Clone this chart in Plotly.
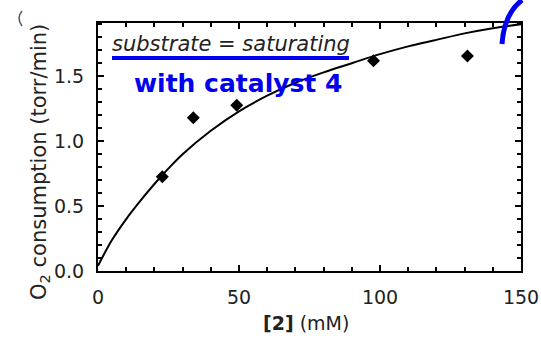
import plotly.graph_objects as go

# measured data points
conc = [22.8, 33.8, 49.2, 97.7, 131.0]
rate = [0.725, 1.18, 1.277, 1.62, 1.656]

# fitted curve
curve_x = [0, 5, 10, 15, 20, 25, 30, 40, 50, 60, 70, 80, 90, 100, 110, 120, 130, 140, 150]
curve_y = [0.04, 0.24, 0.40, 0.54, 0.67, 0.79, 0.90, 1.08, 1.23, 1.35, 1.45, 1.53, 1.60, 1.67, 1.73, 1.78, 1.83, 1.87, 1.90]

x_ticks = [0, 50, 100, 150]
y_ticks = [0.0, 0.5, 1.0, 1.5]
y_tick_labels = ["0.0", "0.5", "1.0", "1.5"]

FONT = "DejaVu Sans"

fig = go.Figure()
fig.add_trace(go.Scatter(x=curve_x, y=curve_y, mode="lines", line=dict(color="black", width=2, shape="spline"),
                         hoverinfo="skip"))
fig.add_trace(go.Scatter(x=conc, y=rate, mode="markers",
                         marker=dict(symbol="diamond", size=10, color="black")))

W, H = 541, 338
L, R, T, B = 98, 20, 23, 67

def px(xp, yp):
    return (xp - L) / (W - L - R), (H - B - yp) / (H - B - T)

fig.update_layout(
    width=W, height=H,
    margin=dict(l=L, r=R, t=T, b=B, autoexpand=False),
    plot_bgcolor="white", paper_bgcolor="white",
    showlegend=False,
    font=dict(family=FONT, color="black", size=18),
)
fig.update_xaxes(
    range=[0, 150], tickvals=x_ticks, ticks="inside", ticklen=6, tickwidth=1.5, tickcolor="black",
    showline=True, linecolor="black", linewidth=2, mirror="ticks", showgrid=False, zeroline=False,
    tickfont=dict(family=FONT, size=19, color="#222"), ticklabelstandoff=8, automargin=False,
    minor=dict(dtick=10, ticks="inside", ticklen=4, tickcolor="black", tickwidth=1.5, showgrid=False),
)
fig.update_yaxes(
    range=[0, 1.91], tickvals=y_ticks, ticktext=y_tick_labels, ticks="inside", ticklen=6, tickwidth=1.5,
    tickcolor="black", showline=True, linecolor="black", linewidth=2, mirror="ticks", showgrid=False,
    zeroline=False, tickfont=dict(family=FONT, size=19, color="#222"), ticklabelstandoff=8, automargin=False,
    minor=dict(dtick=0.1, ticks="inside", ticklen=4, tickcolor="black", tickwidth=1.5, showgrid=False),
)

def label(text, xp, yp, size, color="#222", angle=0):
    x, y = px(xp, yp)
    fig.add_annotation(text=text, xref="paper", yref="paper", x=x, y=y, xanchor="center", yanchor="middle",
                       showarrow=False, textangle=angle, font=dict(family=FONT, size=size, color=color))

# axis titles
label("<b>[2]</b> (mM)", 306, 323, 19)
label("O<sub>2</sub> consumption (torr/min)", 40, 162, 21, angle=-90)

# in-plot labels
label("<i>substrate = saturating</i>", 231, 44, 21)
label("<b>with catalyst 4</b>", 238, 83, 25, color="#0000ee")

# blue underline
x0, y0 = px(112, 58)
x1, _ = px(349, 58)
fig.add_shape(type="line", xref="paper", yref="paper", x0=x0, y0=y0, x1=x1, y1=y0,
              line=dict(color="#0000ee", width=4))

# blue pen arc at the top right
a = px(502, 44); b = px(504, 14); c = px(522, 0)
fig.add_shape(type="path", xref="paper", yref="paper",
              path=f"M {a[0]},{a[1]} Q {b[0]},{b[1]} {c[0]},{c[1]}",
              line=dict(color="#0000ee", width=5))
# faint scan mark at the top left
d = px(22, 11); e = px(16, 18); f = px(22, 26)
fig.add_shape(type="path", xref="paper", yref="paper",
              path=f"M {d[0]},{d[1]} Q {e[0]},{e[1]} {f[0]},{f[1]}",
              line=dict(color="#555", width=1.5))

fig.write_html("out.html")
